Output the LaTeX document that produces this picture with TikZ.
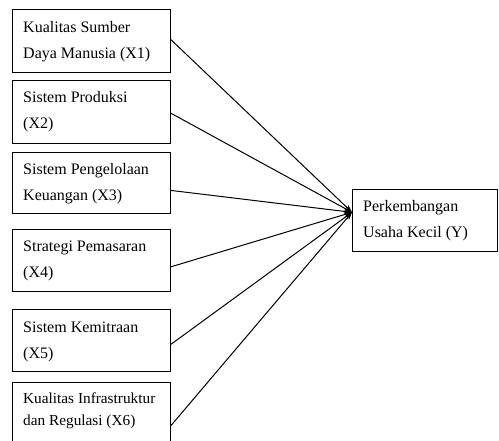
\documentclass[tikz,border=0pt]{standalone}
\usepackage{fontspec}
\setmainfont{Liberation Serif}
\usetikzlibrary{arrows.meta,calc}
\begin{document}
\begin{tikzpicture}[x=1pt,y=-1pt,
  boxnode/.style={draw,line width=1pt,rectangle,inner sep=0pt,anchor=north west,minimum width=158pt},
  lbl/.style={anchor=base west,inner sep=0pt,align=left,font=\fontsize{16}{25.5}\selectfont},
  lblsmall/.style={anchor=base west,inner sep=0pt,align=left,font=\fontsize{15.3}{21}\selectfont},
  link/.style={line width=1pt,-{Stealth[length=8pt,width=5.5pt]}}]
\useasboundingbox (0,0) rectangle (499,441);
% boxes
\node[boxnode,minimum height=63pt] (x1) at (12,9) {};
\node[boxnode,minimum height=63pt] (x2) at (12,80) {};
\node[boxnode,minimum height=61pt] (x3) at (12,152) {};
\node[boxnode,minimum height=62pt] (x4) at (12,229) {};
\node[boxnode,minimum height=62pt] (x5) at (12,309) {};
\node[boxnode,minimum height=64pt] (x6) at (12,382) {};
\node[boxnode,minimum width=145pt,minimum height=62pt] (y) at (352,189) {};
% labels (anchor at baseline of the last line)
\node[lbl] (t1) at ($(x1.north west)+(11,49.5)$) {Kualitas Sumber\\Daya Manusia (X1)};
\node[lbl] (t2) at ($(x2.north west)+(11,48.5)$) {Sistem Produksi\\(X2)};
\node[lbl] (t3) at ($(x3.north west)+(11,48.5)$) {Sistem Pengelolaan\\Keuangan (X3)};
\node[lbl] (t4) at ($(x4.north west)+(11,48.5)$) {Strategi Pemasaran\\(X4)};
\node[lbl] (t5) at ($(x5.north west)+(11,49.5)$) {Sistem Kemitraan\\(X5)};
\node[lblsmall] (t6) at ($(x6.north west)+(11,43)$) {Kualitas Infrastruktur\\dan Regulasi (X6)};
\node[lbl] (ty) at ($(y.north west)+(11,48.5)$) {Perkembangan\\Usaha Kecil (Y)};
% connectors
\coordinate (tip) at ($(y.north west)!0.37!(y.south west)$);
\draw[link] ($(x1.north east)!0.48!(x1.south east)$) -- (tip);
\draw[link] ($(x2.north east)!0.52!(x2.south east)$) -- (tip);
\draw[link] ($(x3.north east)!0.62!(x3.south east)$) -- (tip);
\draw[link] ($(x4.north east)!0.60!(x4.south east)$) -- (tip);
\draw[link] ($(x5.north east)!0.56!(x5.south east)$) -- (tip);
\draw[link] ($(x6.north east)!0.67!(x6.south east)$) -- (tip);
\end{tikzpicture}
\end{document}
